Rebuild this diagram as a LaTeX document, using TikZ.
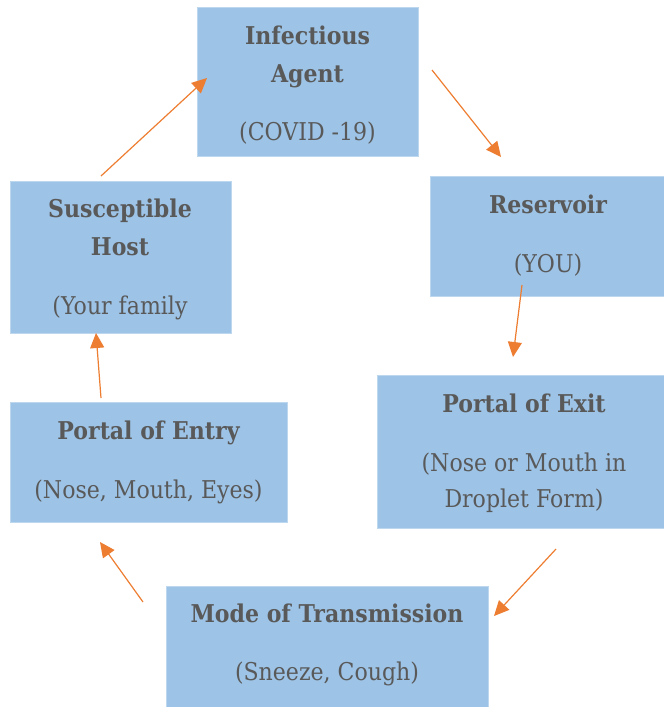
\documentclass[tikz,border=0pt]{standalone}
\usepackage{fontspec}
\setmainfont{DejaVu Serif}[FakeStretch=0.9]
\usetikzlibrary{arrows.meta}
\definecolor{boxfill}{HTML}{9DC3E6}
\definecolor{boxline}{HTML}{BDD7EE}
\definecolor{txt}{HTML}{595959}
\definecolor{arr}{HTML}{ED7D31}
\tikzset{
  box/.style={draw=boxline, line width=0.8pt, fill=boxfill},
  ttl/.style={anchor=base, text=txt, font=\fontsize{24.5}{28}\selectfont\bfseries, inner sep=0pt},
  sub/.style={anchor=base, text=txt, font=\fontsize{24.5}{28}\selectfont, inner sep=0pt},
  arrow/.style={draw=arr, line width=1.2pt, -{Triangle[length=15pt,width=14pt]}}
}
\begin{document}
\begin{tikzpicture}[x=1pt,y=-1pt]
\useasboundingbox (0,0) rectangle (664,707);
% boxes
\path[box] (197,7) rectangle (418,156);
\node[inner sep=0pt] (agent) at (307.5,81.5) {};
\path[box] (430,176) rectangle (670,296);
\node[inner sep=0pt] (res) at (547,236) {};
\path[box] (10,181) rectangle (231,333);
\node[inner sep=0pt] (host) at (120.5,257) {};
\path[box] (377,375) rectangle (670,528);
\node[inner sep=0pt] (exit) at (520,451) {};
\path[box] (10,402) rectangle (287,522);
\node[inner sep=0pt] (entry) at (148.5,462) {};
\path[box] (166,586) rectangle (488,712);
\node[inner sep=0pt] (mode) at (327,646) {};
% texts
\node[ttl] (agent1) at (307.5,44) {Infectious};
\node[ttl] (agent2) at (307.5,82) {Agent};
\node[sub] (agent3) at (307.5,140) {(COVID -19)};
\node[ttl] (res1) at (548,213) {Reservoir};
\node[sub] (res2) at (548,272) {(YOU)};
\node[ttl] (host1) at (120,217) {Susceptible};
\node[ttl] (host2) at (120,255) {Host};
\node[sub] (host3) at (120,314) {(Your family};
\node[ttl] (exit1) at (524,412) {Portal of Exit};
\node[sub] (exit2) at (524,471) {(Nose or Mouth in};
\node[sub] (exit3) at (524,507) {Droplet Form)};
\node[ttl] (entry1) at (148.5,439) {Portal of Entry};
\node[sub] (entry2) at (148.5,498) {(Nose, Mouth, Eyes)};
\node[ttl] (mode1) at (327,622) {Mode of Transmission};
\node[sub] (mode2) at (327,680) {(Sneeze, Cough)};
% arrows
\coordinate (h0) at (101,176); \coordinate (h1) at (207,78);
\coordinate (a0) at (432,70); \coordinate (a1) at (501,157);
\coordinate (r0) at (522,285); \coordinate (r1) at (513,357);
\coordinate (e0) at (556,549); \coordinate (e1) at (494,616);
\coordinate (m0) at (143,602); \coordinate (m1) at (100,542);
\coordinate (n0) at (101,398); \coordinate (n1) at (96,333);
\draw[arrow] (h0) -- (h1);
\draw[arrow] (a0) -- (a1);
\draw[arrow] (r0) -- (r1);
\draw[arrow] (e0) -- (e1);
\draw[arrow] (m0) -- (m1);
\draw[arrow] (n0) -- (n1);
\end{tikzpicture}
\end{document}
